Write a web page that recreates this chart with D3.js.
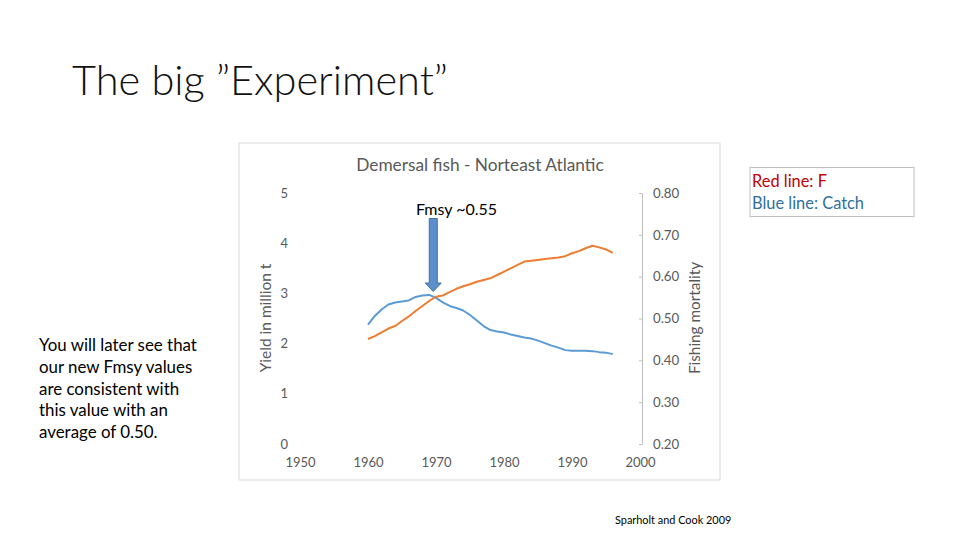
<!DOCTYPE html>
<html><head><meta charset="utf-8">
<script src="https://cdn.jsdelivr.net/npm/d3@7"></script>
<style>
html,body{margin:0;padding:0;background:#fff;}
svg{display:block;font-family:Lato,"Open Sans",sans-serif;}
</style></head>
<body>
<svg id="c" width="960" height="540"></svg>
<script>
const years = d3.range(1960, 1997);
const catchVals = [2.38,2.55,2.68,2.78,2.82,2.84,2.86,2.93,2.96,2.97,2.91,2.82,2.75,2.71,2.66,2.57,2.46,2.35,2.27,2.24,2.22,2.18,2.15,2.12,2.10,2.06,2.01,1.96,1.92,1.87,1.86,1.86,1.86,1.85,1.83,1.82,1.79];
const fVals = [0.451,0.458,0.467,0.476,0.482,0.494,0.505,0.518,0.530,0.542,0.552,0.555,0.563,0.571,0.577,0.582,0.588,0.592,0.596,0.604,0.612,0.620,0.628,0.636,0.638,0.640,0.642,0.644,0.646,0.649,0.656,0.661,0.668,0.674,0.670,0.665,0.657];
const xTicks = [1950,1960,1970,1980,1990,2000];
const leftTicks = [0,1,2,3,4,5];
const rightTicks = [0.2,0.3,0.4,0.5,0.6,0.7,0.8];
const noteLines = ["You will later see that","our new Fmsy values","are consistent with","this value with an","average of 0.50."];

const svg = d3.select("#c");
const x = d3.scaleLinear().domain([1950,2000]).range([300,640]);
const yL = d3.scaleLinear().domain([0,5]).range([444,193]);
const yR = d3.scaleLinear().domain([0.2,0.8]).range([444,193]);

// slide title
svg.append("text").attr("x",72).attr("y",95).attr("font-size",41.5).attr("font-weight",300)
  .attr("fill","#111").text("The big \u201dExperiment\u201d");

// chart frame
svg.append("rect").attr("x",239).attr("y",143).attr("width",481).attr("height",337)
  .attr("fill","#fff").attr("stroke","#d9d9d9").attr("stroke-width",1);

svg.append("text").attr("x",480).attr("y",171).attr("text-anchor","middle")
  .attr("font-size",17.3).attr("fill","#595959").text("Demersal fish - Norteast Atlantic");

// left axis
const gL = svg.append("g").attr("transform","translate(288,0)")
  .call(d3.axisLeft(yL).tickValues(leftTicks).tickSize(0).tickPadding(0).tickFormat(d3.format("d")));
gL.select(".domain").remove();
gL.selectAll("text").attr("font-size",13).attr("fill","#595959").attr("font-family","Lato,sans-serif");

// right axis
const gR = svg.append("g").attr("transform","translate(642,0)")
  .call(d3.axisRight(yR).tickValues(rightTicks).tickSizeInner(-3).tickSizeOuter(0).tickPadding(11).tickFormat(d3.format(".2f")));
gR.select(".domain").attr("stroke","#bfbfbf");
gR.selectAll(".tick line").attr("stroke","#bfbfbf");
gR.selectAll("text").attr("font-size",13.3).attr("fill","#595959").attr("font-family","Lato,sans-serif");

// x axis
const gX = svg.append("g").attr("transform","translate(0,458)")
  .call(d3.axisBottom(x).tickValues(xTicks).tickSize(0).tickPadding(0).tickFormat(d3.format("d")));
gX.select(".domain").remove();
gX.selectAll("text").attr("font-size",13).attr("fill","#595959").attr("font-family","Lato,sans-serif");

// axis titles
svg.append("text").attr("transform","translate(271,318) rotate(-90)").attr("text-anchor","middle")
  .attr("font-size",15.5).attr("fill","#595959").text("Yield in million t");
svg.append("text").attr("transform","translate(700,318) rotate(-90)").attr("text-anchor","middle")
  .attr("font-size",15.3).attr("fill","#595959").text("Fishing mortality");

// lines
const lineC = d3.line().x((d,i)=>x(years[i])).y(d=>yL(d));
const lineF = d3.line().x((d,i)=>x(years[i])).y(d=>yR(d));
svg.append("path").datum(catchVals).attr("d",lineC).attr("fill","none")
  .attr("stroke","#5b9bd5").attr("stroke-width",2).attr("stroke-linejoin","round");
svg.append("path").datum(fVals).attr("d",lineF).attr("fill","none")
  .attr("stroke","#ed7d31").attr("stroke-width",2).attr("stroke-linejoin","round");

// arrow annotation at Fmsy
const ax = x(1969.6), atop = 218.5, ahead = 283, atip = 291.5;
svg.append("path")
  .attr("d",`M${ax-4},${atop} L${ax+4},${atop} L${ax+4},${ahead} L${ax+8},${ahead} L${ax},${atip} L${ax-8},${ahead} L${ax-4},${ahead} Z`)
  .attr("fill","#5b8fcd").attr("stroke","#41719c").attr("stroke-width",1);
svg.append("text").attr("x",416).attr("y",215).attr("font-size",16).attr("fill","#000").text("Fmsy ~0.55");

// legend box
svg.append("rect").attr("x",750).attr("y",167.5).attr("width",164).attr("height",49)
  .attr("fill","#fff").attr("stroke","#bfbfbf");
svg.append("text").attr("x",752).attr("y",187).attr("font-size",16.4).attr("fill","#c00000").text("Red line: F");
svg.append("text").attr("x",752).attr("y",209).attr("font-size",16.4).attr("fill","#2e6f9e").text("Blue line: Catch");

// note text
svg.append("g").selectAll("text").data(noteLines).join("text")
  .attr("x",39).attr("y",(d,i)=>351+i*21.8).attr("font-size",16.9).attr("fill","#000").text(d=>d);

svg.append("text").attr("x",615).attr("y",524).attr("font-size",10.9).attr("fill","#000").text("Sparholt and Cook 2009");
</script>
</body></html>
